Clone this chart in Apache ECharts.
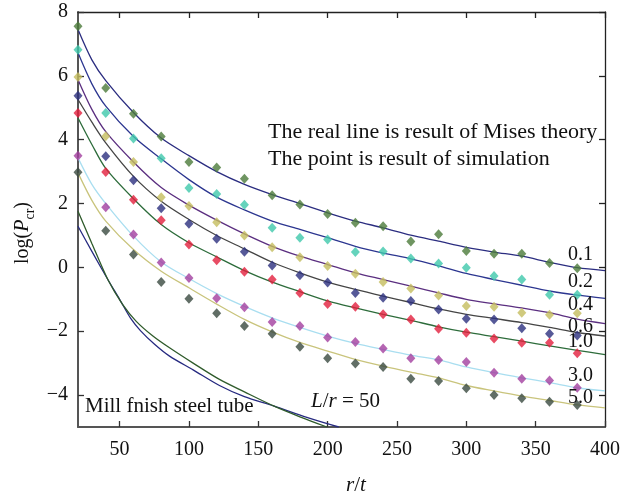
<!DOCTYPE html>
<html>
<head>
<meta charset="utf-8">
<script src="https://cdn.jsdelivr.net/npm/echarts@6/dist/echarts.min.js"></script>
<style>
  html, body { margin: 0; padding: 0; background: #fff; }
  #chart { width: 634px; height: 496px; }
</style>
</head>
<body>
<div id="chart"></div>
<script>
// tick labels
const xTicks = [50, 100, 150, 200, 250, 300, 350, 400];
const yTicks = [-4, -2, 0, 2, 4, 6, 8];

// simulation points (r/t every 20)
const pointX = [20, 40, 60, 80, 100, 120, 140, 160, 180, 200, 220, 240, 260, 280, 300, 320, 340, 360, 380];
const pts01 = [7.55, 5.62, 4.81, 4.10, 3.30, 3.13, 2.78, 2.26, 1.97, 1.67, 1.40, 1.29, 0.81, 1.04, 0.51, 0.43, 0.43, 0.14, -0.03];
const pts02 = [6.82, 4.84, 4.04, 3.42, 2.49, 2.30, 1.96, 1.24, 0.93, 0.87, 0.48, 0.50, 0.28, 0.12, -0.01, -0.27, -0.38, -0.86, -0.86];
const pts04 = [5.96, 4.11, 3.30, 2.20, 1.92, 1.41, 1.00, 0.63, 0.32, 0.04, -0.20, -0.46, -0.66, -0.88, -1.21, -1.23, -1.42, -1.48, -1.44];
const pts06 = [5.38, 3.48, 2.73, 1.85, 1.37, 0.90, 0.49, 0.06, -0.25, -0.47, -0.80, -0.95, -1.05, -1.32, -1.61, -1.63, -1.91, -2.08, -2.13];
const pts10 = [4.84, 2.99, 2.12, 1.48, 0.72, 0.22, -0.14, -0.38, -0.80, -1.15, -1.23, -1.47, -1.63, -1.92, -2.05, -2.23, -2.36, -2.36, -2.69];
const pts30 = [3.50, 1.88, 1.03, 0.15, -0.33, -0.97, -1.25, -1.71, -1.84, -2.20, -2.34, -2.54, -2.85, -2.90, -2.96, -3.30, -3.49, -3.54, -3.77];
const pts50 = [2.98, 1.15, 0.40, -0.46, -0.98, -1.44, -1.84, -2.08, -2.49, -2.85, -3.01, -3.12, -3.49, -3.56, -3.79, -4.00, -4.10, -4.21, -4.31];

// Mises theory curves
const curveX = [20, 30, 40, 60, 80, 100, 120, 140, 160, 180, 200, 220, 240, 260, 280, 300, 320, 340, 360, 380, 400];
const c01 = [7.45, 6.5, 5.85, 4.85, 4.05, 3.5, 3.0, 2.6, 2.28, 2.0, 1.71, 1.45, 1.24, 1.01, 0.82, 0.63, 0.48, 0.35, 0.16, -0.01, -0.10];
const c02 = [6.72, 5.75, 5.05, 4.1, 3.4, 2.75, 2.2, 1.8, 1.45, 1.19, 0.93, 0.66, 0.45, 0.27, 0.05, -0.19, -0.38, -0.56, -0.74, -0.87, -0.97];
const c04 = [5.88, 4.95, 4.25, 3.3, 2.5, 1.95, 1.48, 1.05, 0.66, 0.35, 0.09, -0.17, -0.38, -0.59, -0.8, -1.0, -1.14, -1.27, -1.42, -1.62, -1.76];
const c06 = [5.26, 4.55, 3.9, 2.85, 2.07, 1.5, 1.0, 0.58, 0.16, -0.17, -0.46, -0.69, -0.9, -1.1, -1.3, -1.47, -1.6, -1.73, -1.88, -2.04, -2.15];
const c10 = [4.68, 3.85, 3.1, 2.15, 1.34, 0.77, 0.33, -0.1, -0.46, -0.76, -1.05, -1.27, -1.47, -1.66, -1.86, -2.03, -2.17, -2.31, -2.46, -2.6, -2.73];
const c30 = [3.43, 2.6, 2.0, 0.98, 0.17, -0.35, -0.82, -1.22, -1.58, -1.88, -2.15, -2.38, -2.57, -2.75, -2.9, -3.12, -3.3, -3.46, -3.61, -3.77, -3.87];
const c50 = [2.96, 2.1, 1.45, 0.56, -0.12, -0.64, -1.15, -1.63, -2.02, -2.35, -2.62, -2.88, -3.09, -3.28, -3.46, -3.70, -3.87, -4.03, -4.17, -4.31, -4.40];

// mill finish steel tube, L/r = 50
const millNavyX = [20, 30, 41.5, 50, 58, 65, 75, 86, 103, 122, 140, 161, 185, 208];
const millNavyY = [1.29, 0.5, -0.38, -1.0, -1.6, -1.98, -2.4, -2.78, -3.21, -3.70, -4.05, -4.34, -4.7, -5.0];
const millGreenX = [20, 30, 41.5, 52, 62, 74, 86, 103, 122, 140, 161, 180, 199.5];
const millGreenY = [1.76, 0.75, -0.38, -1.15, -1.69, -2.15, -2.52, -3.0, -3.51, -3.9, -4.34, -4.68, -5.0];

const groupNames = ['0.1', '0.2', '0.4', '0.6', '1.0', '3.0', '5.0'];

const serif = '"Liberation Serif", "DejaVu Serif", serif';
const pointColors = ['#4b7b39', '#3ec8ab', '#c4bd5e', '#2c2f7e', '#e21f3d', '#a23e9f', '#3a4a40'];
const curveColors = ['#2b2d80', '#2c3690', '#5b2f80', '#454545', '#2d6c3b', '#a9def0', '#c9c47c'];
const labelY = [256, 283, 306, 328, 343, 377, 399];

const zip = (xs, ys) => xs.map((x, i) => [x, ys[i]]);

const curves = [c01, c02, c04, c06, c10, c30, c50];
const points = [pts01, pts02, pts04, pts06, pts10, pts30, pts50];

let series = [];
curves.forEach((c, i) => {
  series.push({
    name: 'curve ' + groupNames[i],
    type: 'line',
    data: zip(curveX, c),
    smooth: 0.3,
    symbol: 'none',
    lineStyle: { color: curveColors[i], width: 1.3 },
    z: 2
  });
});
points.forEach((p, i) => {
  series.push({
    name: 'points ' + groupNames[i],
    type: 'scatter',
    data: zip(pointX, p),
    symbol: 'diamond',
    symbolSize: [9, 10],
    itemStyle: { color: pointColors[i] },
    z: 4
  });
});
series.push({
  name: 'mill navy', type: 'line', data: zip(millNavyX, millNavyY),
  smooth: 0.3, symbol: 'none', lineStyle: { color: '#262a80', width: 1.3 }, z: 2
});
series.push({
  name: 'mill green', type: 'line', data: zip(millGreenX, millGreenY),
  smooth: 0.3, symbol: 'none', lineStyle: { color: '#2f5b2b', width: 1.3 }, z: 2
});

const chart = echarts.init(document.getElementById('chart'), null, { renderer: 'canvas' });

const labelStyle = { fontFamily: serif, fontSize: 20, color: '#111' };

let graphics = [
  {
    type: 'text', left: 268, top: 121,
    style: { text: 'The real line is result of Mises theory', font: '22px ' + serif, fill: '#111' }
  },
  {
    type: 'text', left: 268, top: 148,
    style: { text: 'The point is result of simulation', font: '22px ' + serif, fill: '#111' }
  },
  {
    type: 'text', left: 85, top: 396,
    style: { text: 'Mill fnish steel tube', font: '21px ' + serif, fill: '#111' }
  },
  {
    type: 'text', left: 311, top: 391,
    style: {
      text: '{i|L}{n|/}{i|r}{n| = 50}',
      rich: {
        i: { fontFamily: serif, fontSize: 21, fontStyle: 'italic', fill: '#111' },
        n: { fontFamily: serif, fontSize: 21, fill: '#111' }
      }
    }
  },
  {
    type: 'text', left: 346, top: 475,
    style: {
      text: '{i|r}{n|/}{i|t}',
      rich: {
        i: { fontFamily: serif, fontSize: 21, fontStyle: 'italic', fill: '#111' },
        n: { fontFamily: serif, fontSize: 21, fill: '#111' }
      }
    }
  },
  {
    type: 'text', x: 13, y: 264, rotation: Math.PI / 2,
    style: {
      text: '{n|log(}{i|P}{s|cr}{n|)}',
      rich: {
        n: { fontFamily: serif, fontSize: 20, fill: '#111', verticalAlign: 'bottom' },
        i: { fontFamily: serif, fontSize: 20, fontStyle: 'italic', fill: '#111', verticalAlign: 'bottom' },
        s: { fontFamily: serif, fontSize: 14, fill: '#111', verticalAlign: 'bottom', padding: [0, 0, -4, 0] }
      }
    }
  }
];
groupNames.forEach((g, i) => {
  graphics.push({
    type: 'text', left: 568, top: labelY[i] - 11,
    style: { text: g, font: '20px ' + serif, fill: '#111' },
    z: 10
  });
});

const option = {
  backgroundColor: '#fff',
  animation: false,
  grid: { left: 78, right: 29, top: 12, bottom: 69 },
  xAxis: [
    {
      type: 'value', min: 20, max: 400, position: 'bottom',
      axisLine: { onZero: false, lineStyle: { color: '#555', width: 2 } },
      axisTick: { inside: true, length: 6, customValues: xTicks, lineStyle: { color: '#333', width: 1.3 } },
      axisLabel: { customValues: xTicks, margin: 13, ...labelStyle },
      splitLine: { show: false }
    },
    {
      type: 'value', min: 20, max: 400, position: 'top',
      axisLine: { onZero: false, lineStyle: { color: '#222', width: 1.3 } },
      axisTick: { inside: true, length: 6, customValues: xTicks, lineStyle: { color: '#222', width: 1.3 } },
      axisLabel: { show: false },
      splitLine: { show: false }
    }
  ],
  yAxis: [
    {
      type: 'value', min: -5, max: 8, position: 'left',
      axisLine: { onZero: false, lineStyle: { color: '#555', width: 2 } },
      axisTick: { inside: true, length: 6, customValues: yTicks, lineStyle: { color: '#333', width: 1.3 } },
      axisLabel: {
        customValues: yTicks, margin: 10, ...labelStyle,
        formatter: v => String(v).replace('-', '\u2212')
      },
      splitLine: { show: false }
    },
    {
      type: 'value', min: -5, max: 8, position: 'right',
      axisLine: { onZero: false, lineStyle: { color: '#222', width: 1.3 } },
      axisTick: { inside: true, length: 6, customValues: yTicks, lineStyle: { color: '#222', width: 1.3 } },
      axisLabel: { show: false },
      splitLine: { show: false }
    }
  ],
  series: series,
  graphic: graphics
};

chart.setOption(option);
</script>
</body>
</html>
